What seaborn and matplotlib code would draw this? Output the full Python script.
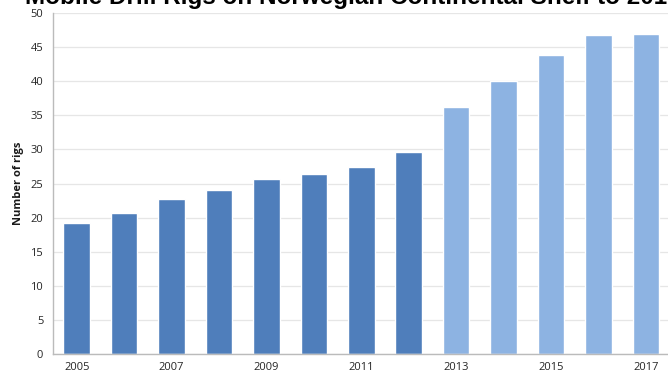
import matplotlib
matplotlib.use("Agg")
import matplotlib.pyplot as plt
import seaborn as sns
import pandas as pd
from matplotlib.ticker import MultipleLocator, FixedLocator

years = [str(y) for y in range(2005, 2018)]
rigs = [19.2, 20.7, 22.7, 24.0, 25.7, 26.4, 27.4, 29.6, 36.2, 40.0, 43.8, 46.8, 46.9]
kind = ["actual"] * 8 + ["forecast"] * 5
kind_colors = {"actual": "#4F7EBB", "forecast": "#8DB3E2"}
tick_years = ["2005", "2007", "2009", "2011", "2013", "2015", "2017"]
title = "Mobile Drill Rigs on Norwegian Continental Shelf to 2017"
ylabel = "Number of rigs"

df = pd.DataFrame({"year": years, "rigs": rigs, "kind": kind})

sns.set_style("white")
plt.rcParams["font.family"] = ["Open Sans", "DejaVu Sans"]

fig = plt.figure(figsize=(6.68, 3.76), dpi=100)
W, H = 668, 376
ax = fig.add_axes([53 / W, (H - 354) / H, (672 - 53) / W, (354 - 13) / H])

sns.barplot(data=df, x="year", y="rigs", hue="kind", palette=kind_colors,
            dodge=False, width=0.56, legend=False, ax=ax, saturation=1)

ax.set_ylim(0, 50)
ax.set_xlim(-0.5, len(years) - 0.5 + 0.05)
ax.yaxis.set_major_locator(MultipleLocator(5))
ax.grid(axis="y", color="#E6E6E6", linewidth=0.9)
ax.set_axisbelow(True)

ax.set_xticks([years.index(t) for t in tick_years])
ax.set_xticklabels(tick_years)
ax.xaxis.set_minor_locator(FixedLocator([i + 0.5 for i in range(-1, len(years))]))
ax.tick_params(axis="x", which="major", length=0, labelsize=8, colors="#262626", pad=6)
ax.tick_params(axis="x", which="minor", length=4, color="#BBBBBB", direction="out")
ax.tick_params(axis="y", length=4, color="#BBBBBB", labelsize=8, colors="#262626", pad=3)

for s in ["top", "right"]:
    ax.spines[s].set_visible(False)
for s in ["left", "bottom"]:
    ax.spines[s].set_color("#BBBBBB")
    ax.spines[s].set_linewidth(1.0)

ax.set_xlabel("")
ax.set_ylabel(ylabel, fontsize=8, fontweight="bold", color="#1a1a1a", labelpad=5)

fig.text(25 / W, 1 - 4 / H, title, fontsize=17.5, fontweight="bold",
         family=["Liberation Sans", "DejaVu Sans"], color="black",
         ha="left", va="baseline")

fig.savefig("out.png", dpi=100)
